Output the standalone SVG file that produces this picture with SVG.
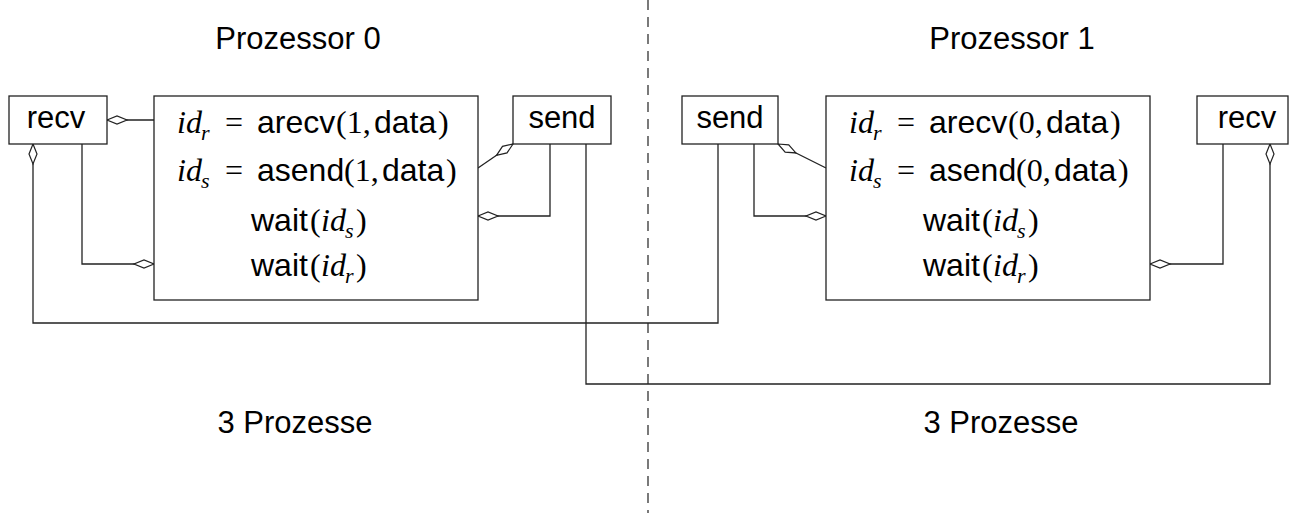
<svg xmlns="http://www.w3.org/2000/svg" width="1292" height="513" viewBox="0 0 1292 513">
  <style>
    .box { fill: #fff; stroke: #222; stroke-width: 1.3; }
    .wire { fill: none; stroke: #222; stroke-width: 1.3; }
    .sep { fill: none; stroke: #333; stroke-width: 1.3; stroke-dasharray: 10 7; }
    .title { font-family: "Liberation Sans", Arial, sans-serif; font-size: 31px; fill: #000; }
    .lbl { font-family: "Liberation Sans", Arial, sans-serif; font-size: 31px; fill: #000; text-anchor: middle; }
    .sf { font-family: "Liberation Sans", Arial, sans-serif; font-size: 32px; fill: #000; }
    .mi { font-family: "Liberation Serif", "Times New Roman", serif; font-style: italic; font-size: 32px; fill: #000; }
    .mr { font-family: "Liberation Serif", "Times New Roman", serif; font-size: 32px; fill: #000; }
    .sub { font-family: "Liberation Serif", "Times New Roman", serif; font-style: italic; font-size: 22px; fill: #000; }
  </style>
  <defs>
    <!-- open (aggregation) diamond, drawn from the path start outward -->
    <marker id="diamond" markerUnits="userSpaceOnUse" markerWidth="24" markerHeight="12"
            viewBox="-1 -6 24 12" refX="0" refY="0" orient="auto">
      <path d="M0,0 L10,-4 L20,0 L10,4 Z" fill="#fff" stroke="#222" stroke-width="1.2"/>
    </marker>
  </defs>

  <rect width="1292" height="513" fill="#fff"/>

  <!-- processor boundary -->
  <line class="sep" x1="648" y1="0" x2="648" y2="513"/>

  <text class="title" x="298" y="49" text-anchor="middle">Prozessor 0</text>
  <text class="title" x="1012" y="49" text-anchor="middle">Prozessor 1</text>
  <text class="title" x="295" y="433" text-anchor="middle">3 Prozesse</text>
  <text class="title" x="1001" y="433" text-anchor="middle">3 Prozesse</text>

  <!-- connectors -->
  <g id="connectors">
    <path class="wire" d="M107,120 L154,120" marker-start="url(#diamond)"/>
    <path class="wire" d="M154,264 L82,264 L82,144" marker-start="url(#diamond)"/>
    <path class="wire" d="M33,144 L33,323 L718,323 L718,144" marker-start="url(#diamond)"/>
    <path class="wire" d="M513,144 L478,168" marker-start="url(#diamond)"/>
    <path class="wire" d="M478,216 L550,216 L550,144" marker-start="url(#diamond)"/>
    <path class="wire" d="M1270,144 L1270,384 L586,384 L586,144" marker-start="url(#diamond)"/>
    <path class="wire" d="M778,144 L826,168" marker-start="url(#diamond)"/>
    <path class="wire" d="M826,216 L754,216 L754,144" marker-start="url(#diamond)"/>
    <path class="wire" d="M1150,264 L1223,264 L1223,144" marker-start="url(#diamond)"/>
  </g>

  <!-- processor 0 -->
  <g id="recv0">
    <rect class="box" x="9" y="96" width="98" height="48"/>
    <text class="lbl" x="56" y="128">recv</text>
  </g>
  <g id="send0">
    <rect class="box" x="513" y="96" width="98" height="48"/>
    <text class="lbl" x="562" y="128">send</text>
  </g>
  <g id="main0">
    <rect class="box" x="154" y="96" width="324" height="204"/>
    <text class="mi" x="177" y="133">id</text><text class="sub" x="201" y="140">r</text>
    <text class="mr" x="225" y="133">=</text>
    <text class="sf" x="257" y="133">arecv</text>
    <text class="mr" x="336" y="133">(1,</text>
    <text class="sf" x="374" y="133">data</text>
    <text class="mr" x="438" y="133">)</text>

    <text class="mi" x="177" y="181">id</text><text class="sub" x="201" y="188">s</text>
    <text class="mr" x="225" y="181">=</text>
    <text class="sf" x="257" y="181">asend</text>
    <text class="mr" x="344" y="181">(1,</text>
    <text class="sf" x="382" y="181">data</text>
    <text class="mr" x="446" y="181">)</text>

    <text class="sf" x="251" y="231">wait</text>
    <text class="mr" x="310" y="231">(</text>
    <text class="mi" x="321" y="231">id</text><text class="sub" x="345" y="238">s</text>
    <text class="mr" x="356" y="231">)</text>

    <text class="sf" x="251" y="276">wait</text>
    <text class="mr" x="310" y="276">(</text>
    <text class="mi" x="321" y="276">id</text><text class="sub" x="345" y="283">r</text>
    <text class="mr" x="356" y="276">)</text>
  </g>

  <!-- processor 1 -->
  <g id="send1">
    <rect class="box" x="682" y="96" width="96" height="48"/>
    <text class="lbl" x="730" y="128">send</text>
  </g>
  <g id="recv1">
    <rect class="box" x="1197" y="96" width="91" height="48"/>
    <text class="lbl" x="1247" y="128">recv</text>
  </g>
  <g id="main1">
    <rect class="box" x="826" y="96" width="324" height="204"/>
    <text class="mi" x="849" y="133">id</text><text class="sub" x="873" y="140">r</text>
    <text class="mr" x="897" y="133">=</text>
    <text class="sf" x="929" y="133">arecv</text>
    <text class="mr" x="1008" y="133">(0,</text>
    <text class="sf" x="1046" y="133">data</text>
    <text class="mr" x="1110" y="133">)</text>

    <text class="mi" x="849" y="181">id</text><text class="sub" x="873" y="188">s</text>
    <text class="mr" x="897" y="181">=</text>
    <text class="sf" x="929" y="181">asend</text>
    <text class="mr" x="1016" y="181">(0,</text>
    <text class="sf" x="1054" y="181">data</text>
    <text class="mr" x="1118" y="181">)</text>

    <text class="sf" x="923" y="231">wait</text>
    <text class="mr" x="982" y="231">(</text>
    <text class="mi" x="993" y="231">id</text><text class="sub" x="1017" y="238">s</text>
    <text class="mr" x="1028" y="231">)</text>

    <text class="sf" x="923" y="276">wait</text>
    <text class="mr" x="982" y="276">(</text>
    <text class="mi" x="993" y="276">id</text><text class="sub" x="1017" y="283">r</text>
    <text class="mr" x="1028" y="276">)</text>
  </g>
</svg>
